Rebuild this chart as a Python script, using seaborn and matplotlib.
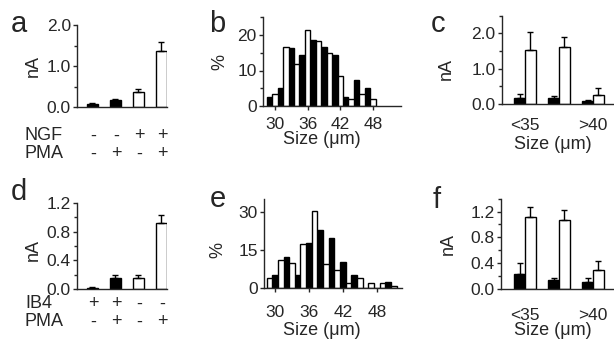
import numpy as np
import pandas as pd
import seaborn as sns
import matplotlib.pyplot as plt
from matplotlib import transforms
from matplotlib.ticker import MultipleLocator, FormatStrFormatter

# --- panel a: NGF / PMA treatment ---
a_ngf = ['-', '-', '+', '+']
a_pma = ['-', '+', '-', '+']
a_vals = [0.08, 0.17, 0.37, 1.36]
a_err = [0.02, 0.03, 0.07, 0.22]
a_fill = ['black', 'black', 'white', 'white']

# --- panel d: IB4 / PMA treatment ---
d_ib4 = ['+', '+', '-', '-']
d_pma = ['-', '+', '-', '+']
d_vals = [0.02, 0.15, 0.155, 0.92]
d_err = [0.01, 0.045, 0.045, 0.11]
d_fill = ['black', 'black', 'white', 'white']

# --- panel b: size histogram (%) ---
b_black_x = [29, 31, 33, 35, 37, 39, 41, 43, 45, 47]
b_black = [2.5, 5, 16.3, 14.3, 18.7, 16.5, 14.3, 2.5, 7.2, 5]
b_white_x = [30, 32, 34, 36, 38, 40, 42, 44, 46, 48]
b_white = [3.5, 16.5, 11.7, 21.5, 18.2, 15, 8.5, 2, 3.5, 2]

# --- panel e: size histogram (%) ---
e_white_x = [29, 31, 33, 35, 37, 39, 41, 43, 45, 47, 49, 51]
e_white = [4.2, 11.1, 10, 17.3, 30.4, 9.5, 7.2, 2, 4.2, 2, 2, 1]
e_black_x = [30, 32, 34, 36, 38, 40, 42, 44, 46, 48, 50]
e_black = [5.2, 12.4, 5.2, 17.6, 22.8, 19.8, 10.2, 5.2, 0, 0, 2.6]

# --- panels c / f: current by cell size ---
size_groups = ['<35', '35-40', '>40']
size_ticklabels = ['<35', '', '>40']
c_black = [0.16, 0.18, 0.08]
c_black_err = [0.11, 0.06, 0.02]
c_white = [1.53, 1.62, 0.25]
c_white_err = [0.5, 0.29, 0.19]
f_black = [0.23, 0.14, 0.11]
f_black_err = [0.17, 0.035, 0.055]
f_white = [1.12, 1.07, 0.29]
f_white_err = [0.15, 0.15, 0.15]

sns.set_style('ticks')
plt.rcParams['font.family'] = ['Liberation Sans', 'DejaVu Sans']
plt.rcParams['font.size'] = 13
plt.rcParams['axes.linewidth'] = 1.0

TICK_FS = 12.5
LABEL_FS = 13
pal = {'black': 'black', 'white': 'white'}
W, H = 614, 340
fig = plt.figure(figsize=(W / 100, H / 100), dpi=100)


def px_axes(l, t, r, b):
    return fig.add_axes([l / W, 1 - b / H, (r - l) / W, (b - t) / H])


def style(ax):
    sns.despine(ax=ax)
    ax.tick_params(axis='both', which='major', length=3, width=1, pad=1.5, labelsize=TICK_FS)
    ax.tick_params(axis='y', which='minor', length=2, width=1)
    ax.set_xlabel('')
    ax.set_ylabel('')


def add_errors(ax, errs):
    bars = sorted(ax.patches, key=lambda p: p.get_x())
    xs = [p.get_x() + p.get_width() / 2 for p in bars]
    ys = [p.get_height() for p in bars]
    ax.errorbar(xs, ys, yerr=[np.zeros(len(errs)), errs], fmt='none',
                ecolor='black', elinewidth=1, capsize=2.2, capthick=1, zorder=3)


def place_xlabel(ax, baseline_px):
    # put the x label baseline at a given pixel row of the figure
    bb = ax.get_position()
    bottom_px = (1 - bb.y0) * H
    ax.xaxis.label.set_va('baseline')
    return (bottom_px - baseline_px) / (bb.height * H)


def treatment_panel(ax, vals, errs, fills, rows, row_names, row_y):
    df = pd.DataFrame({'cond': [str(i) for i in range(len(vals))], 'nA': vals, 'fill': fills})
    sns.barplot(data=df, x='cond', y='nA', hue='fill', palette=pal, dodge=False,
                width=0.48, saturation=1, edgecolor='black', linewidth=1,
                legend=False, ax=ax)
    add_errors(ax, errs)
    style(ax)
    ax.set_xlim(-0.67, 3.24)
    ax.set_xticks([])
    ax.yaxis.set_major_formatter(FormatStrFormatter('%.1f'))
    ax.set_ylabel('nA', fontsize=LABEL_FS)
    trans = transforms.blended_transform_factory(ax.transData, fig.transFigure)
    for signs, name, yy in zip(rows, row_names, row_y):
        fig.text(25 / W, 1 - yy / H, name, fontsize=LABEL_FS, va='center', ha='left')
        for i, s in enumerate(signs):
            ax.text(i + 0.05, 1 - yy / H, s, transform=trans, fontsize=LABEL_FS,
                    ha='center', va='center')


def hist_panel(ax, bx, bv, wx, wv):
    df = pd.DataFrame({'size': bx + wx, 'pct': bv + wv,
                       'fill': ['black'] * len(bx) + ['white'] * len(wx)})
    sns.barplot(data=df, x='size', y='pct', hue='fill', palette=pal, native_scale=True,
                dodge=False, width=1, saturation=1, edgecolor='black', linewidth=1,
                legend=False, ax=ax)
    style(ax)
    ax.set_xticks([30, 36, 42, 48])
    ax.set_xticklabels(['30', '36', '42', '48'])
    ax.set_ylabel('%', fontsize=LABEL_FS)
    ax.set_xlabel('Size (\u03bcm)', fontsize=LABEL_FS)


def size_panel(ax, bv, be, wv, we):
    df = pd.DataFrame({'group': size_groups * 2, 'nA': bv + wv,
                       'fill': ['black'] * 3 + ['white'] * 3})
    sns.barplot(data=df, x='group', y='nA', hue='fill', palette=pal, dodge=True,
                width=0.63, gap=0, saturation=1, edgecolor='black', linewidth=1,
                legend=False, ax=ax)
    add_errors(ax, [e for pair in zip(be, we) for e in pair])
    style(ax)
    ax.set_xticks([0, 1, 2])
    ax.set_xticklabels(size_ticklabels)
    ax.yaxis.set_major_formatter(FormatStrFormatter('%.1f'))
    ax.set_ylabel('nA', fontsize=LABEL_FS)
    ax.set_xlabel('Size (\u03bcm)', fontsize=LABEL_FS)


# a
ax_a = px_axes(77, 25, 167, 107)
treatment_panel(ax_a, a_vals, a_err, a_fill, [a_ngf, a_pma], ['NGF', 'PMA'], [136, 154])
ax_a.set_ylim(0, 2.0)
ax_a.set_yticks([0, 1, 2])
ax_a.yaxis.set_minor_locator(MultipleLocator(0.5))
ax_a.yaxis.set_label_coords(-0.39, 0.5)

# d
ax_d = px_axes(77, 203, 167, 289)
treatment_panel(ax_d, d_vals, d_err, d_fill, [d_ib4, d_pma], ['IB4', 'PMA'], [304, 322])
ax_d.set_ylim(0, 1.2)
ax_d.set_yticks([0, 0.4, 0.8, 1.2])
ax_d.yaxis.set_minor_locator(MultipleLocator(0.2))
ax_d.yaxis.set_label_coords(-0.39, 0.45)

# b
ax_b = px_axes(263, 17.25, 400.7, 106)
hist_panel(ax_b, b_black_x, b_black, b_white_x, b_white)
ax_b.set_xlim(27.8, 53.1)
ax_b.set_ylim(0, 25)
ax_b.set_yticks([0, 10, 20])
ax_b.yaxis.set_minor_locator(MultipleLocator(5))
ax_b.tick_params(axis='x', pad=5)
ax_b.yaxis.set_label_coords(-0.25, 0.5)
ax_b.xaxis.set_label_coords(0.426, place_xlabel(ax_b, 144))

# e
ax_e = px_axes(264, 198.9, 401.7, 288.3)
hist_panel(ax_e, e_black_x, e_black, e_white_x, e_white)
ax_e.set_xlim(28.05, 52.4)
ax_e.set_ylim(0, 35)
ax_e.set_yticks([0, 15, 30])
ax_e.tick_params(axis='x', pad=9)
ax_e.yaxis.set_label_coords(-0.27, 0.43)
ax_e.xaxis.set_label_coords(0.42, place_xlabel(ax_e, 335))

# c
ax_c = px_axes(501.7, 15.75, 614, 104)
size_panel(ax_c, c_black, c_black_err, c_white, c_white_err)
ax_c.set_xlim(-0.685, 2.62)
ax_c.set_ylim(0, 2.5)
ax_c.set_yticks([0, 1, 2])
ax_c.yaxis.set_minor_locator(MultipleLocator(0.5))
ax_c.tick_params(axis='x', length=0, pad=10)
ax_c.yaxis.set_label_coords(-0.42, 0.40)
ax_c.xaxis.set_label_coords(0.457, place_xlabel(ax_c, 149))

# f
ax_f = px_axes(500.7, 198.7, 614, 289)
size_panel(ax_f, f_black, f_black_err, f_white, f_white_err)
ax_f.set_xlim(-0.715, 2.62)
ax_f.set_ylim(0, 1.4)
ax_f.set_yticks([0, 0.4, 0.8, 1.2])
ax_f.yaxis.set_minor_locator(MultipleLocator(0.2))
ax_f.tick_params(axis='x', length=0, pad=13.5)
ax_f.yaxis.set_label_coords(-0.39, 0.5)
ax_f.xaxis.set_label_coords(0.46, place_xlabel(ax_f, 335))

# panel letters
for letter, x, y in [('a', 11, 32), ('b', 209, 32), ('c', 431, 32),
                     ('d', 11, 200), ('e', 210, 207), ('f', 433, 208)]:
    fig.text(x / W, 1 - y / H, letter, fontsize=21, va='baseline', ha='left')

fig.savefig('out.png', dpi=100)
